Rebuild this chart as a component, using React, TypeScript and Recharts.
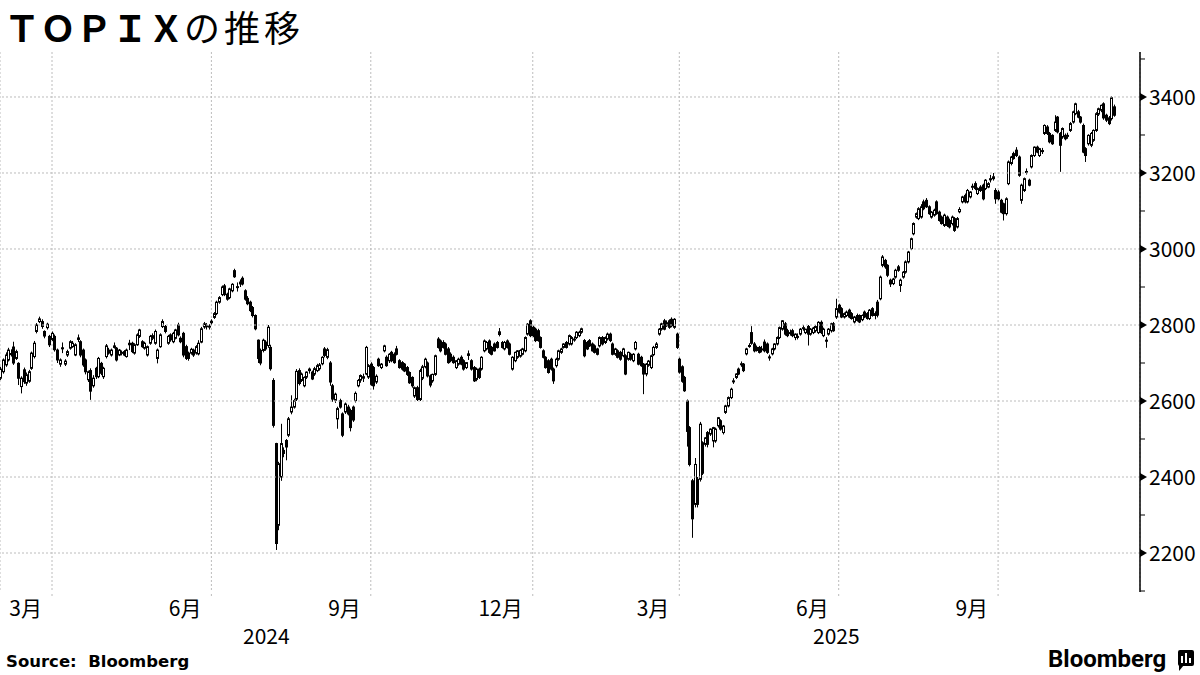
import {
  Bar,
  CartesianGrid,
  ComposedChart,
  ReferenceLine,
  XAxis,
  YAxis,
} from "recharts";

type Candle = [number, number, number, number]; // open, high, low, close

// daily TOPIX candles, one array per month
const mar24: Candle[] = [
  [2660, 2690, 2655, 2684], [2677, 2712, 2672, 2708], [2695, 2728, 2690, 2721], [2708, 2740, 2704, 2734],
  [2722, 2736, 2717, 2725], [2742, 2756, 2695, 2700], [2712, 2735, 2708, 2730], [2699, 2702, 2642, 2660],
  [2638, 2665, 2620, 2660], [2682, 2688, 2645, 2651], [2647, 2675, 2640, 2669], [2652, 2682, 2648, 2677],
  [2686, 2730, 2682, 2726], [2717, 2758, 2712, 2752], [2783, 2805, 2778, 2800], [2809, 2822, 2805, 2816],
  [2809, 2815, 2790, 2796], [2783, 2786, 2765, 2771], [2793, 2806, 2788, 2802], [2770, 2774, 2742, 2748],
];
const apr24: Candle[] = [
  [2762, 2783, 2758, 2778], [2770, 2775, 2730, 2735], [2734, 2738, 2700, 2708], [2697, 2712, 2690, 2708],
  [2740, 2754, 2726, 2738], [2697, 2710, 2692, 2705], [2721, 2735, 2716, 2730], [2739, 2760, 2735, 2756],
  [2743, 2758, 2740, 2752], [2721, 2752, 2718, 2748], [2766, 2775, 2755, 2762], [2756, 2760, 2715, 2721],
  [2734, 2738, 2690, 2695], [2708, 2712, 2670, 2677], [2656, 2680, 2650, 2677], [2680, 2686, 2603, 2626],
  [2640, 2668, 2635, 2660], [2686, 2690, 2658, 2664], [2664, 2716, 2660, 2712], [2699, 2703, 2668, 2673],
  [2664, 2690, 2658, 2686],
];
const may24: Candle[] = [
  [2717, 2750, 2712, 2745], [2734, 2740, 2722, 2726], [2721, 2738, 2717, 2734], [2745, 2754, 2738, 2741],
  [2739, 2742, 2704, 2708], [2721, 2737, 2718, 2734], [2726, 2733, 2720, 2728], [2730, 2734, 2718, 2721],
  [2717, 2738, 2714, 2734], [2752, 2761, 2734, 2748], [2752, 2756, 2726, 2730], [2726, 2752, 2722, 2748],
  [2748, 2778, 2745, 2774], [2770, 2790, 2766, 2787], [2756, 2760, 2740, 2743], [2739, 2756, 2735, 2752],
  [2721, 2746, 2717, 2743], [2752, 2774, 2748, 2770], [2765, 2778, 2760, 2772], [2752, 2788, 2748, 2783],
  [2712, 2738, 2699, 2734],
];
const jun24: Candle[] = [
  [2743, 2778, 2740, 2774], [2796, 2815, 2792, 2809], [2796, 2800, 2778, 2783], [2752, 2774, 2748, 2770],
  [2774, 2778, 2756, 2761], [2756, 2782, 2752, 2778], [2765, 2790, 2762, 2787], [2800, 2806, 2770, 2774],
  [2765, 2770, 2752, 2756], [2778, 2782, 2715, 2721], [2743, 2748, 2708, 2712], [2726, 2730, 2706, 2712],
  [2726, 2740, 2722, 2736], [2734, 2738, 2716, 2721], [2726, 2747, 2722, 2743], [2724, 2760, 2720, 2752],
  [2755, 2795, 2752, 2790], [2795, 2808, 2790, 2803], [2798, 2805, 2788, 2796], [2795, 2802, 2788, 2797],
];
const jul24: Candle[] = [
  [2806, 2815, 2800, 2810], [2820, 2834, 2816, 2830], [2830, 2864, 2826, 2860], [2860, 2876, 2856, 2872],
  [2880, 2904, 2876, 2900], [2903, 2908, 2876, 2880], [2881, 2885, 2864, 2868], [2872, 2898, 2868, 2895],
  [2890, 2910, 2886, 2907], [2943, 2948, 2924, 2927], [2900, 2912, 2888, 2901], [2908, 2920, 2900, 2913],
  [2923, 2928, 2904, 2908], [2890, 2894, 2864, 2868], [2870, 2876, 2852, 2856], [2860, 2864, 2834, 2838],
  [2846, 2850, 2820, 2825], [2825, 2828, 2786, 2790], [2760, 2762, 2700, 2712], [2733, 2738, 2694, 2700],
  [2733, 2764, 2728, 2760], [2755, 2760, 2732, 2737],
];
const aug24: Candle[] = [
  [2746, 2800, 2740, 2794], [2741, 2748, 2680, 2685], [2654, 2660, 2530, 2536], [2488, 2490, 2208, 2225],
  [2273, 2440, 2260, 2435], [2400, 2540, 2390, 2488], [2470, 2478, 2452, 2462], [2496, 2500, 2444, 2479],
  [2510, 2558, 2505, 2553], [2571, 2615, 2565, 2584], [2584, 2606, 2580, 2601], [2605, 2684, 2600, 2678],
  [2680, 2686, 2641, 2646], [2654, 2675, 2650, 2671], [2640, 2665, 2636, 2662], [2663, 2678, 2658, 2676],
  [2680, 2688, 2672, 2684], [2676, 2680, 2655, 2658], [2671, 2690, 2666, 2685], [2680, 2698, 2676, 2693],
  [2685, 2700, 2680, 2695],
];
const sep24: Candle[] = [
  [2698, 2718, 2694, 2715], [2737, 2742, 2715, 2720], [2715, 2740, 2710, 2735], [2700, 2705, 2640, 2650],
  [2640, 2645, 2598, 2605], [2602, 2622, 2595, 2618], [2553, 2585, 2527, 2580], [2601, 2606, 2580, 2584],
  [2566, 2570, 2505, 2510], [2571, 2596, 2566, 2592], [2584, 2590, 2562, 2566], [2575, 2580, 2520, 2530],
  [2584, 2588, 2545, 2550], [2601, 2625, 2596, 2620], [2640, 2658, 2636, 2654], [2655, 2670, 2648, 2667],
  [2660, 2672, 2650, 2664], [2671, 2745, 2668, 2741], [2663, 2697, 2658, 2693],
];
const oct24: Candle[] = [
  [2697, 2702, 2640, 2644], [2688, 2692, 2630, 2640], [2650, 2670, 2645, 2665], [2710, 2714, 2690, 2693],
  [2688, 2700, 2684, 2697], [2732, 2748, 2728, 2745], [2715, 2720, 2690, 2693], [2706, 2726, 2700, 2723],
  [2728, 2732, 2702, 2706], [2723, 2728, 2698, 2701], [2737, 2745, 2720, 2723], [2706, 2710, 2685, 2688],
  [2701, 2705, 2680, 2684], [2697, 2700, 2676, 2679], [2688, 2692, 2666, 2670], [2675, 2678, 2645, 2648],
  [2662, 2665, 2635, 2640], [2613, 2638, 2608, 2635], [2635, 2640, 2600, 2604], [2604, 2685, 2600, 2680],
  [2660, 2695, 2655, 2690], [2690, 2714, 2686, 2710],
];
const nov24: Candle[] = [
  [2700, 2704, 2662, 2666], [2666, 2670, 2636, 2642], [2653, 2672, 2648, 2670], [2670, 2722, 2666, 2719],
  [2763, 2768, 2738, 2741], [2758, 2762, 2728, 2732], [2754, 2760, 2738, 2741], [2750, 2754, 2720, 2723],
  [2737, 2742, 2698, 2701], [2723, 2728, 2702, 2706], [2715, 2720, 2698, 2701], [2688, 2708, 2684, 2706],
  [2697, 2714, 2693, 2710], [2715, 2720, 2694, 2697], [2706, 2710, 2680, 2684], [2688, 2702, 2684, 2701],
  [2724, 2733, 2708, 2720], [2706, 2710, 2680, 2684], [2688, 2692, 2650, 2653], [2657, 2688, 2652, 2684],
];
const dec24: Candle[] = [
  [2684, 2688, 2658, 2662], [2684, 2718, 2680, 2715], [2732, 2762, 2728, 2758], [2737, 2758, 2733, 2754],
  [2758, 2762, 2724, 2728], [2741, 2745, 2720, 2723], [2750, 2754, 2730, 2732], [2754, 2758, 2738, 2741],
  [2782, 2792, 2770, 2775], [2754, 2758, 2738, 2741], [2737, 2758, 2733, 2754], [2758, 2762, 2738, 2741],
  [2750, 2754, 2720, 2723], [2684, 2718, 2680, 2715], [2706, 2730, 2702, 2728], [2715, 2734, 2711, 2732],
  [2718, 2736, 2714, 2733], [2723, 2740, 2720, 2737], [2732, 2770, 2728, 2767], [2776, 2805, 2772, 2802],
  [2811, 2815, 2768, 2772],
];
const jan25: Candle[] = [
  [2794, 2798, 2768, 2772], [2789, 2793, 2755, 2759], [2785, 2790, 2756, 2759], [2767, 2770, 2738, 2741],
  [2732, 2736, 2712, 2715], [2715, 2718, 2685, 2688], [2706, 2710, 2672, 2675], [2710, 2714, 2680, 2684],
  [2684, 2688, 2645, 2653], [2693, 2714, 2688, 2710], [2710, 2735, 2706, 2732], [2728, 2740, 2724, 2737],
  [2741, 2752, 2738, 2750], [2754, 2758, 2738, 2741], [2750, 2775, 2746, 2772], [2750, 2771, 2746, 2767],
  [2762, 2770, 2756, 2763], [2767, 2784, 2763, 2781], [2772, 2785, 2768, 2781],
];
const feb25: Candle[] = [
  [2781, 2793, 2777, 2790], [2759, 2763, 2715, 2719], [2754, 2758, 2734, 2737], [2759, 2763, 2742, 2745],
  [2750, 2754, 2730, 2732], [2745, 2749, 2725, 2728], [2737, 2740, 2720, 2723], [2745, 2770, 2741, 2767],
  [2767, 2771, 2746, 2750], [2754, 2770, 2750, 2767], [2763, 2780, 2759, 2776], [2776, 2780, 2755, 2759],
  [2750, 2754, 2720, 2723], [2723, 2740, 2719, 2737], [2732, 2736, 2712, 2715], [2728, 2732, 2706, 2710],
  [2719, 2740, 2715, 2737], [2719, 2723, 2668, 2671],
];
const mar25: Candle[] = [
  [2710, 2730, 2706, 2728], [2723, 2727, 2706, 2710], [2706, 2726, 2702, 2723], [2737, 2758, 2733, 2754],
  [2723, 2727, 2694, 2697], [2715, 2719, 2690, 2693], [2697, 2700, 2618, 2671], [2671, 2700, 2665, 2697],
  [2694, 2708, 2690, 2705], [2688, 2722, 2684, 2719], [2722, 2745, 2718, 2741], [2741, 2755, 2737, 2750],
  [2776, 2792, 2772, 2789], [2789, 2806, 2785, 2803], [2811, 2816, 2786, 2789], [2806, 2812, 2795, 2798],
  [2811, 2815, 2790, 2794], [2815, 2820, 2794, 2798], [2794, 2818, 2790, 2815], [2776, 2780, 2737, 2741],
];
const apr25: Candle[] = [
  [2710, 2714, 2672, 2676], [2690, 2694, 2648, 2652], [2662, 2666, 2624, 2627], [2600, 2604, 2480, 2520],
  [2530, 2534, 2428, 2433], [2390, 2395, 2240, 2290], [2328, 2450, 2320, 2433], [2394, 2400, 2320, 2328],
  [2394, 2545, 2388, 2539], [2490, 2494, 2405, 2410], [2486, 2505, 2480, 2503], [2517, 2521, 2478, 2486],
  [2513, 2528, 2508, 2526], [2495, 2532, 2478, 2530], [2495, 2530, 2490, 2526], [2535, 2558, 2530, 2556],
  [2548, 2552, 2522, 2526], [2517, 2537, 2512, 2534], [2570, 2590, 2566, 2587], [2587, 2612, 2583, 2609],
  [2609, 2635, 2605, 2631],
];
const may25: Candle[] = [
  [2651, 2660, 2645, 2653], [2662, 2673, 2658, 2671], [2684, 2688, 2668, 2671], [2697, 2704, 2690, 2698],
  [2697, 2700, 2676, 2680], [2724, 2740, 2720, 2737], [2745, 2752, 2740, 2746], [2780, 2797, 2748, 2752],
  [2750, 2755, 2728, 2732], [2741, 2746, 2730, 2733], [2741, 2745, 2725, 2728], [2737, 2745, 2728, 2736],
  [2755, 2762, 2728, 2732], [2750, 2754, 2724, 2728], [2716, 2722, 2706, 2714], [2724, 2740, 2720, 2737],
  [2737, 2752, 2733, 2750], [2750, 2770, 2746, 2767], [2767, 2796, 2763, 2793], [2789, 2813, 2785, 2811],
];
const jun25: Candle[] = [
  [2803, 2808, 2772, 2776], [2785, 2790, 2768, 2772], [2780, 2788, 2772, 2779], [2785, 2790, 2768, 2772],
  [2767, 2778, 2760, 2776], [2770, 2778, 2762, 2768], [2776, 2792, 2772, 2789], [2792, 2800, 2785, 2793],
  [2780, 2790, 2776, 2789], [2796, 2800, 2746, 2776], [2776, 2792, 2772, 2789], [2780, 2795, 2776, 2792],
  [2785, 2800, 2780, 2796], [2780, 2810, 2776, 2807], [2807, 2812, 2776, 2780], [2772, 2793, 2768, 2789],
  [2760, 2768, 2740, 2758], [2776, 2792, 2772, 2789], [2785, 2806, 2780, 2803], [2803, 2808, 2782, 2785],
  [2821, 2869, 2816, 2843],
];
const jul25: Candle[] = [
  [2852, 2856, 2830, 2834], [2843, 2847, 2818, 2821], [2821, 2833, 2817, 2830], [2825, 2838, 2821, 2834],
  [2839, 2843, 2818, 2821], [2830, 2834, 2814, 2817], [2808, 2824, 2804, 2821], [2825, 2830, 2809, 2812],
  [2825, 2828, 2805, 2808], [2814, 2828, 2810, 2825], [2834, 2838, 2818, 2821], [2830, 2834, 2814, 2817],
  [2817, 2842, 2813, 2839], [2843, 2847, 2822, 2825], [2830, 2836, 2815, 2825], [2860, 2866, 2820, 2826],
  [2869, 2930, 2865, 2926], [2957, 2984, 2952, 2979], [2970, 2974, 2948, 2953], [2957, 2960, 2926, 2931],
  [2918, 2922, 2900, 2908], [2909, 2924, 2905, 2921],
];
const aug25: Candle[] = [
  [2926, 2948, 2922, 2944], [2953, 2958, 2940, 2944], [2904, 2922, 2887, 2918], [2926, 2942, 2922, 2939],
  [2939, 2970, 2935, 2966], [2966, 2995, 2962, 2992], [3001, 3030, 2997, 3027], [3040, 3070, 3036, 3067],
  [3084, 3096, 3080, 3093], [3080, 3110, 3076, 3106], [3084, 3118, 3080, 3111], [3124, 3130, 3102, 3106],
  [3128, 3134, 3108, 3111], [3111, 3115, 3090, 3093], [3084, 3100, 3080, 3097], [3089, 3106, 3085, 3102],
  [3124, 3128, 3090, 3093], [3097, 3101, 3072, 3075], [3084, 3088, 3064, 3067], [3062, 3093, 3058, 3089],
];
const sep25: Candle[] = [
  [3084, 3088, 3058, 3062], [3075, 3080, 3054, 3058], [3067, 3088, 3062, 3084], [3080, 3084, 3045, 3049],
  [3058, 3084, 3054, 3080], [3098, 3110, 3094, 3104], [3124, 3140, 3120, 3137], [3141, 3146, 3120, 3124],
  [3124, 3158, 3120, 3154], [3137, 3152, 3133, 3150], [3163, 3172, 3155, 3165], [3172, 3178, 3155, 3159],
  [3146, 3162, 3142, 3159], [3163, 3168, 3150, 3154], [3168, 3172, 3128, 3132], [3159, 3184, 3155, 3181],
  [3163, 3176, 3160, 3172], [3182, 3195, 3175, 3185], [3185, 3200, 3180, 3190], [3154, 3160, 3119, 3132],
];
const oct25: Candle[] = [
  [3150, 3155, 3128, 3132], [3128, 3132, 3094, 3097], [3119, 3122, 3075, 3093], [3093, 3136, 3088, 3132],
  [3172, 3233, 3168, 3229], [3225, 3245, 3220, 3242], [3251, 3256, 3235, 3238], [3260, 3268, 3242, 3246],
  [3242, 3246, 3190, 3194], [3128, 3172, 3119, 3168], [3154, 3188, 3150, 3185], [3203, 3212, 3196, 3204],
  [3181, 3185, 3165, 3168], [3216, 3249, 3212, 3246], [3246, 3270, 3242, 3268], [3268, 3272, 3252, 3255],
  [3246, 3266, 3242, 3264], [3258, 3266, 3250, 3259], [3304, 3328, 3300, 3325], [3321, 3326, 3300, 3304],
  [3304, 3308, 3278, 3282], [3299, 3302, 3274, 3277],
];
const nov25: Candle[] = [
  [3312, 3352, 3308, 3334], [3347, 3350, 3304, 3308], [3304, 3308, 3203, 3273], [3295, 3320, 3290, 3317],
  [3299, 3304, 3286, 3290], [3297, 3306, 3290, 3299], [3312, 3334, 3308, 3330], [3334, 3364, 3330, 3361],
  [3356, 3385, 3352, 3382], [3361, 3366, 3344, 3347], [3347, 3350, 3330, 3334], [3325, 3330, 3252, 3255],
  [3264, 3268, 3229, 3246], [3277, 3302, 3272, 3299], [3273, 3308, 3268, 3304], [3286, 3315, 3282, 3312],
  [3312, 3360, 3308, 3356], [3355, 3372, 3350, 3369],
];
const dec25: Candle[] = [
  [3365, 3380, 3360, 3378], [3382, 3386, 3340, 3345], [3352, 3356, 3334, 3339], [3345, 3350, 3326, 3330],
  [3343, 3402, 3338, 3398], [3374, 3380, 3348, 3352],
];

const months: Candle[][] = [
  mar24, apr24, may24, jun24, jul24, aug24, sep24, oct24, nov24, dec24, jan25,
  feb25, mar25, apr25, may25, jun25, jul25, aug25, sep25, oct25, nov25, dec25,
];

// quarter boundaries: the label names the month that ends at the tick
const tickMonths = [1, 4, 7, 10, 13, 16, 19];
const tickLabels = ["3月", "6月", "9月", "12月", "3月", "6月", "9月"];
const yearLabels = ["2024", "2025"];
const majorPrices = [2200, 2400, 2600, 2800, 3000, 3200, 3400];
const axisPrices = [2100, 2200, 2300, 2400, 2500, 2600, 2700, 2800, 2900, 3000, 3100, 3200, 3300, 3400, 3500];

const X_MIN = -0.23;
const X_MAX = 443.2;
const Y_MIN = 2097.4;
const Y_MAX = 3518.4;

const FONT = '"Noto Sans CJK JP", "DejaVu Sans", sans-serif';
const GRID = "#bcbcbc";

const rows = months.flat().map(([open, high, low, close], i) => ({
  i,
  open,
  high,
  low,
  close,
  range: [low, high],
}));

const monthStarts: number[] = [];
months.reduce((acc, m) => {
  monthStarts.push(acc);
  return acc + m.length;
}, 0);
const tickIdx = tickMonths.map((m) => monthStarts[m]);
const labelOf = new Map(tickIdx.map((v, k) => [v, tickLabels[k]]));
const newYear = monthStarts[10];
const yearPos = [(X_MIN + newYear) / 2, (newYear + X_MAX) / 2];

const CandleShape = (props: any) => {
  const { x, y, width, height, payload } = props;
  if (x == null || y == null || !payload) return null;
  const cx = Math.round(x + width / 2) + 0.5;
  const top = Math.min(y, y + height);
  const bottom = Math.max(y, y + height);
  const span = payload.high - payload.low || 1;
  const py = (v: number) => top + ((payload.high - v) / span) * (bottom - top);
  const yo = py(payload.open);
  const yc = py(payload.close);
  const up = payload.close >= payload.open;
  const bodyTop = Math.min(yo, yc);
  const bodyH = Math.max(1, Math.abs(yc - yo));
  return (
    <g>
      <line x1={cx} x2={cx} y1={top} y2={bottom} stroke="#000" strokeWidth={1} />
      <rect
        x={cx - 1}
        y={bodyTop}
        width={2}
        height={bodyH}
        fill={up ? "#fff" : "#000"}
        stroke="#000"
        strokeWidth={1}
      />
    </g>
  );
};

const MonthTick = (props: any) => {
  const { x, y, payload } = props;
  return (
    <text x={x - 10} y={y + 20} textAnchor="end" fontSize={21} fontFamily={FONT} fill="#000">
      {labelOf.get(payload.value)}
    </text>
  );
};

const YearTick = (props: any) => {
  const { x, y, index } = props;
  return (
    <text x={x} y={y + 24} textAnchor="middle" fontSize={21} fontFamily={FONT} fill="#000">
      {yearLabels[index]}
    </text>
  );
};

const PriceTick = (props: any) => {
  const { x, y, payload } = props;
  const v = payload.value;
  if (v % 200 !== 0) {
    return <line x1={x} x2={x + 5} y1={y} y2={y} stroke="#000" strokeWidth={1} />;
  }
  return (
    <g>
      <polygon points={`${x},${y - 4} ${x + 7},${y} ${x},${y + 4}`} fill="#000" />
      <text x={x + 9} y={y + 8} textAnchor="start" fontSize={21} fontFamily={FONT} fill="#000">
        {v}
      </text>
    </g>
  );
};

export default function App() {
  return (
    <div
      style={{
        position: "absolute",
        left: 0,
        top: 0,
        width: 1200,
        height: 675,
        background: "#fff",
        overflow: "hidden",
      }}
    >
      <div
        style={{
          position: "absolute",
          left: 4,
          top: 0,
          fontFamily: FONT,
          fontSize: 36,
          lineHeight: "53px",
          color: "#000",
          whiteSpace: "nowrap",
        }}
      >
        <span style={{ fontWeight: 700 }}>ＴＯＰＩＸ</span>
        <span style={{ fontWeight: 400, letterSpacing: 4 }}>の推移</span>
      </div>

      <ComposedChart
        width={1200}
        height={675}
        data={rows}
        margin={{ top: 52, right: 0, bottom: 27, left: 0 }}
        style={{ position: "absolute", left: 0, top: 0 }}
      >
        <CartesianGrid horizontal={false} stroke={GRID} strokeDasharray="2 2" />
        {majorPrices.map((v) => (
          <ReferenceLine key={v} y={v} stroke={GRID} strokeDasharray="2 2" />
        ))}
        <XAxis
          dataKey="i"
          type="number"
          domain={[X_MIN, X_MAX]}
          allowDataOverflow
          ticks={tickIdx}
          interval={0}
          axisLine={false}
          tickLine={{ stroke: GRID, strokeDasharray: "2 2" }}
          tickSize={4}
          tickMargin={0}
          height={28}
          tick={<MonthTick />}
        />
        <XAxis
          xAxisId="year"
          dataKey="i"
          type="number"
          domain={[X_MIN, X_MAX]}
          allowDataOverflow
          ticks={yearPos}
          interval={0}
          axisLine={false}
          tickLine={false}
          tickSize={0}
          tickMargin={0}
          height={28}
          tick={<YearTick />}
        />
        <YAxis
          orientation="right"
          type="number"
          domain={[Y_MIN, Y_MAX]}
          allowDataOverflow
          ticks={axisPrices}
          interval={0}
          width={60}
          axisLine={{ stroke: "#000", strokeWidth: 1.5 }}
          tickLine={false}
          tickSize={0}
          tickMargin={0}
          tick={<PriceTick />}
        />
        <Bar dataKey="range" barSize={3} shape={<CandleShape />} isAnimationActive={false} />
      </ComposedChart>

      <svg
        width={1200}
        height={675}
        style={{ position: "absolute", left: 0, top: 0, pointerEvents: "none" }}
      >
        <text
          x={6}
          y={667}
          fontSize={16.5}
          fontWeight={700}
          fontFamily='"DejaVu Sans", sans-serif'
          fill="#000"
          style={{ whiteSpace: "pre" }}
        >
          Source:  Bloomberg
        </text>
        <text x={1048} y={667} fontSize={24} fontWeight={700} fontFamily="Roboto, sans-serif" fill="#000">
          Bloomberg
        </text>
        <rect x={1178} y={650} width={16} height={16} rx={2} fill="#000" />
        <polygon points="1179,665 1184,665 1179,671" fill="#000" />
        <rect x={1181} y={656} width={2} height={7} fill="#fff" />
        <rect x={1185} y={653} width={2} height={10} fill="#fff" />
        <rect x={1189} y={658} width={2} height={5} fill="#fff" />
      </svg>
    </div>
  );
}
